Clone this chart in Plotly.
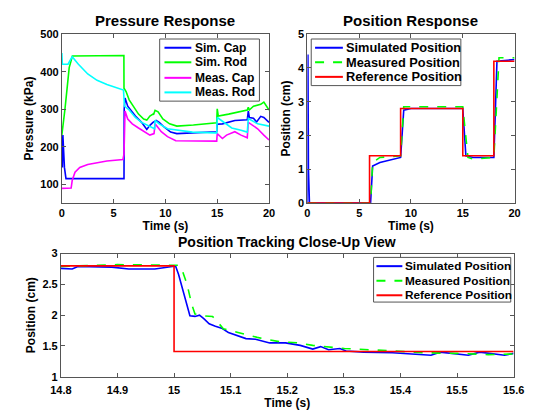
import plotly.graph_objects as go

# ---------------- Pressure response data (time s, pressure kPa) ----------------
sim_cap_t = [0.0, 0.05, 0.1, 0.2, 0.25, 0.4, 6.0, 6.02, 6.1, 6.36, 6.7, 7.1, 7.7, 8.2, 8.5, 8.8, 9.1, 9.4, 9.9, 10.5, 11.1, 14.8, 14.95, 15.0, 15.5, 16.7, 17.9, 18.0, 18.1, 18.5, 18.8, 19.2, 19.5, 20.0]
sim_cap_p = [227, 145, 231, 150, 145, 115, 115, 300, 330, 308, 295, 282, 265, 246, 257, 265, 270, 265, 252, 239, 235, 239, 240, 260, 261, 270, 272, 295, 278, 276, 266, 281, 278, 265]

sim_rod_t = [0.0, 0.1, 0.3, 0.49, 0.71, 1.02, 5.99, 6.0, 6.2, 6.5, 6.97, 7.4, 7.9, 8.2, 8.5, 8.8, 8.85, 9.0, 9.29, 9.75, 10.4, 11.1, 12.7, 14.8, 14.95, 15.0, 15.05, 15.1, 16.1, 17.9, 18.0, 18.1, 18.5, 19.2, 19.5, 19.8, 20.0]
sim_rod_p = [231, 250, 300, 351, 411, 442, 443, 356, 347, 325, 304, 287, 274, 271, 282, 287, 285, 297, 293, 274, 261, 255, 258, 264, 264, 301, 283, 282, 287, 298, 305, 298, 308, 313, 319, 304, 298]

meas_cap_t = [0.0, 0.9, 1.0, 1.27, 1.73, 2.5, 4.35, 5.9, 6.0, 6.1, 6.36, 6.8, 7.4, 8.0, 8.5, 8.9, 9.0, 9.6, 10.2, 11.0, 14.8, 14.95, 15.0, 15.5, 15.9, 16.7, 17.3, 17.9, 18.0, 18.9, 19.5, 20.0]
meas_cap_p = [89, 90, 110, 132, 145, 153, 162, 166, 180, 295, 274, 261, 250, 240, 231, 235, 261, 240, 227, 216, 214, 215, 235, 222, 231, 240, 231, 224, 265, 248, 231, 218]

meas_rod_t = [0.0, 0.05, 0.6, 1.0, 1.6, 2.5, 3.4, 4.35, 5.95, 6.0, 6.05, 6.5, 7.1, 7.7, 8.3, 8.95, 9.0, 9.4, 10.2, 11.1, 12.6, 14.8, 14.95, 15.0, 15.6, 16.4, 17.3, 17.9, 18.0, 18.9, 20.0]
meas_rod_p = [450, 420, 420, 440, 420, 394, 377, 366, 351, 317, 308, 298, 278, 265, 257, 248, 270, 261, 248, 244, 239, 237, 237, 278, 265, 250, 244, 239, 275, 261, 255]

# ---------------- Position response data (time s, position cm) ----------------
pos_ref_t = [0, 6, 6, 9, 9, 15, 15, 18, 18, 20]
pos_ref_y = [0, 0, 1.4, 1.4, 2.8, 2.8, 1.4, 1.4, 4.2, 4.2]

pos_sim_t = [0.0, 0.05, 0.1, 0.2, 6.1, 6.3, 7.0, 8.0, 9.0, 9.3, 10.0, 15.0, 15.3, 16.0, 18.0, 18.3, 20.0]
pos_sim_y = [0.0, 4.4, 1.0, 0.0, 0.0, 1.1, 1.2, 1.28, 1.35, 2.75, 2.8, 2.8, 1.4, 1.35, 1.35, 4.2, 4.25]

pos_meas_t = [0.0, 6.1, 6.3, 7.0, 9.0, 9.3, 15.0, 15.5, 16.0, 18.0, 18.5, 20.0]
pos_meas_y = [0.0, 0.0, 1.2, 1.35, 1.4, 2.85, 2.85, 1.35, 1.3, 1.35, 4.3, 4.3]

# ---------------- Close-up data ----------------
cu_ref_t = [14.8, 15.0, 15.0, 15.6]
cu_ref_y = [2.8, 2.8, 1.41, 1.41]

cu_sim_t = [14.8, 14.82, 14.83, 14.89, 14.92, 14.966, 14.997, 15.003, 15.008, 15.016, 15.023, 15.028, 15.037, 15.045, 15.053, 15.062, 15.073, 15.084, 15.096, 15.113, 15.127, 15.144, 15.169, 15.197, 15.223, 15.245, 15.259, 15.273, 15.293, 15.304, 15.335, 15.386, 15.425, 15.454, 15.47, 15.5, 15.52, 15.54, 15.584, 15.6]
cu_sim_y = [2.76, 2.75, 2.79, 2.78, 2.75, 2.75, 2.79, 2.79, 2.66, 2.40, 2.14, 1.99, 1.98, 2.0, 1.94, 1.86, 1.82, 1.79, 1.72, 1.66, 1.62, 1.61, 1.55, 1.55, 1.51, 1.45, 1.49, 1.44, 1.46, 1.42, 1.40, 1.39, 1.37, 1.35, 1.40, 1.37, 1.35, 1.40, 1.35, 1.38]

cu_meas_t = [14.8, 14.9, 15.0, 15.008, 15.014, 15.023, 15.031, 15.037, 15.051, 15.068, 15.076, 15.087, 15.113, 15.147, 15.186, 15.22, 15.245, 15.301, 15.386, 15.442, 15.5, 15.555, 15.6]
cu_meas_y = [2.79, 2.82, 2.81, 2.81, 2.74, 2.50, 2.18, 2.02, 1.99, 1.98, 1.90, 1.78, 1.72, 1.64, 1.57, 1.55, 1.51, 1.46, 1.42, 1.39, 1.38, 1.36, 1.37]

# legend labels
press_labels = ["Sim. Cap", "Sim. Rod", "Meas. Cap", "Meas. Rod"]
pos_labels = ["Simulated Position", "Measured Position", "Reference Position"]

BLUE, GREEN, MAG, CYAN, RED = "#0000FF", "#00FF00", "#FF00FF", "#00FFFF", "#FF0000"
W = 539.0
H = 410.0


def px(x):
    return x / W


def py(y):
    return 1 - y / H


fig = go.Figure()

lw = 1.6
press_styles = [(BLUE, "solid"), (GREEN, "solid"), (MAG, "solid"), (CYAN, "solid")]
pos_styles = [(BLUE, "solid"), (GREEN, "dash"), (RED, "solid")]

for (t, p), (c, d), nm in zip([(sim_cap_t, sim_cap_p), (sim_rod_t, sim_rod_p), (meas_cap_t, meas_cap_p), (meas_rod_t, meas_rod_p)], press_styles, press_labels):
    fig.add_trace(go.Scatter(x=t, y=p, name=nm, mode="lines", line=dict(color=c, width=lw, dash=d), xaxis="x", yaxis="y"))

for (t, p), (c, d), nm in zip([(pos_sim_t, pos_sim_y), (pos_meas_t, pos_meas_y), (pos_ref_t, pos_ref_y)], pos_styles, pos_labels):
    fig.add_trace(go.Scatter(x=t, y=p, name=nm, mode="lines", line=dict(color=c, width=lw, dash=d), xaxis="x2", yaxis="y2"))

for (t, p), (c, d), nm in zip([(cu_sim_t, cu_sim_y), (cu_meas_t, cu_meas_y), (cu_ref_t, cu_ref_y)], pos_styles, pos_labels):
    fig.add_trace(go.Scatter(x=t, y=p, name=nm, mode="lines", line=dict(color=c, width=lw, dash=d), xaxis="x3", yaxis="y3"))

tickfont = dict(family="Liberation Sans", size=11, color="black", weight="bold")
titlefont = dict(family="Liberation Sans", size=12, color="black", weight="bold")


def ax(**kw):
    d = dict(showline=True, linecolor="#555555", linewidth=1, mirror="ticks", ticks="inside",
             ticklen=4, tickcolor="#555555", showgrid=False, zeroline=False,
             tickfont=tickfont, title_font=titlefont)
    d.update(kw)
    return d


fig.update_layout(
    width=539, height=410, margin=dict(l=0, r=0, t=0, b=0),
    paper_bgcolor="white", plot_bgcolor="white",
    font=dict(family="Liberation Sans", color="black"),
    showlegend=False,
    xaxis=ax(domain=[px(53), px(269)], range=[0, 20], tickvals=[0, 5, 10, 15, 20],
             title=dict(text="Time (s)", standoff=2), anchor="y"),
    yaxis=ax(domain=[py(203), py(29)], range=[50, 500], tickvals=[100, 200, 300, 400, 500],
             title=dict(text="Pressure (kPa)", standoff=4), anchor="x"),
    xaxis2=ax(domain=[px(309), px(525)], range=[0, 20], tickvals=[0, 5, 10, 15, 20],
              title=dict(text="Time (s)", standoff=2), anchor="y2"),
    yaxis2=ax(domain=[py(203), py(29)], range=[0, 5], tickvals=[0, 1, 2, 3, 4, 5],
              title=dict(text="Position (cm)", standoff=4), anchor="x2"),
    xaxis3=ax(domain=[px(52), px(524)], range=[14.8, 15.6],
              tickvals=[14.8, 14.9, 15.0, 15.1, 15.2, 15.3, 15.4, 15.5, 15.6],
              ticktext=["14.8", "14.9", "15", "15.1", "15.2", "15.3", "15.4", "15.5", "15.6"],
              ticklabelstandoff=3,
              title=dict(text="Time (s)", standoff=0), anchor="y3"),
    yaxis3=ax(domain=[py(382), py(255)], range=[1, 3], tickvals=[1, 1.5, 2, 2.5, 3],
              ticktext=["1", "1.5", "2", "2.5", "3"],
              title=dict(text="Position (cm)", standoff=4), anchor="x3"),
)

ttl = dict(family="Liberation Sans", size=15, color="black", weight="bold")
fig.add_annotation(text="Pressure Response", x=px(161), y=py(15), xref="paper", yref="paper",
                   showarrow=False, font=ttl, xanchor="center", yanchor="middle")
fig.add_annotation(text="Position Response", x=px(417), y=py(15), xref="paper", yref="paper",
                   showarrow=False, font=ttl, xanchor="center", yanchor="middle")
fig.add_annotation(text="Position Tracking Close-Up View", x=px(288), y=py(243), xref="paper", yref="paper",
                   showarrow=False, font=dict(ttl, size=14), xanchor="center", yanchor="middle")


def draw_legend(box, rows, line_x, text_x, labels, styles, fsize):
    x0, y0, x1, y1 = box
    fig.add_shape(type="rect", xref="paper", yref="paper",
                  x0=px(x0), x1=px(x1), y0=py(y1), y1=py(y0),
                  line=dict(color="#555555", width=1), fillcolor="white", layer="above")
    for yy, lab, (c, d) in zip(rows, labels, styles):
        fig.add_shape(type="line", xref="paper", yref="paper",
                      x0=px(line_x[0]), x1=px(line_x[1]), y0=py(yy), y1=py(yy),
                      line=dict(color=c, width=2, dash=d), layer="above")
        fig.add_annotation(text=lab, x=px(text_x), y=py(yy), xref="paper", yref="paper",
                           showarrow=False, xanchor="left", yanchor="middle",
                           font=dict(family="Liberation Sans", size=fsize, color="black", weight="bold"))


draw_legend((155, 34, 259, 98), [43, 58, 74, 89], (160, 188), 190, press_labels, press_styles, 12)
draw_legend((313, 34, 469, 82), [43, 58, 73], (317, 346), 347, pos_labels, pos_styles, 12.8)
draw_legend((378, 259, 521, 305), [268, 283, 298], (381, 408), 409, pos_labels, pos_styles, 11.8)

fig.write_html("out.html")
